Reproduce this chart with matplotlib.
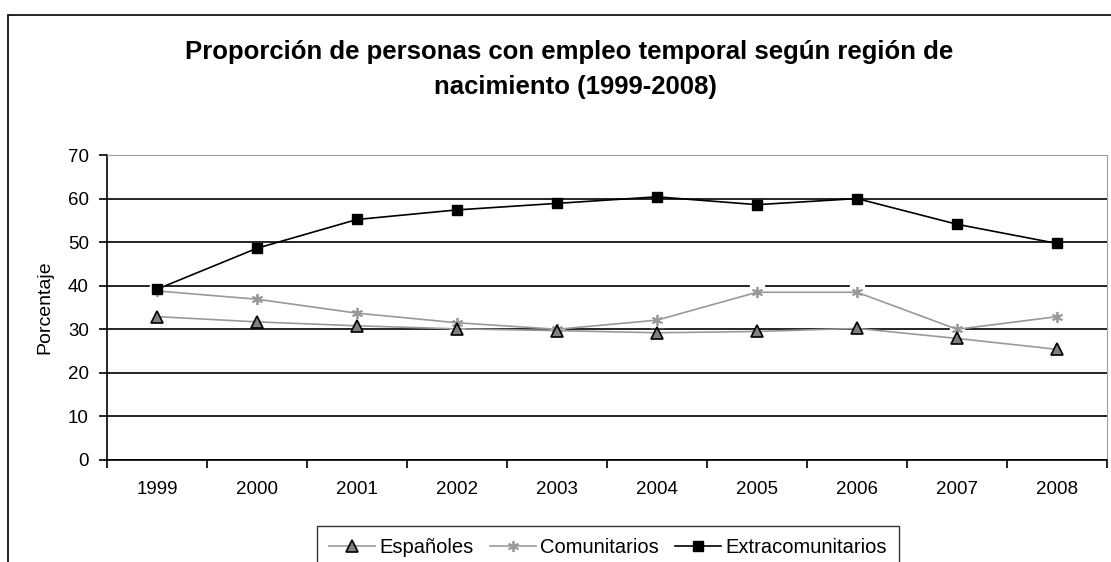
import matplotlib.pyplot as plt
from matplotlib.patches import Rectangle

plt.rcParams['font.family'] = ['Liberation Sans', 'DejaVu Sans']

anios = ['1999', '2000', '2001', '2002', '2003', '2004', '2005', '2006', '2007', '2008']
espanoles = [32.9, 31.7, 30.8, 30.1, 29.7, 29.2, 29.5, 30.2, 27.9, 25.4]
comunitarios = [38.8, 36.9, 33.7, 31.5, 30.0, 32.1, 38.5, 38.5, 30.0, 32.9]
extracomunitarios = [39.2, 48.6, 55.2, 57.4, 58.9, 60.4, 58.6, 60.0, 54.1, 49.7]

fig = plt.figure(figsize=(11.11, 5.62), dpi=100)
# borde del área del gráfico
fig.patches.append(Rectangle((8 / 1111, -0.1), 1.2, 1 - 15 / 562 + 0.1,
                             transform=fig.transFigure, fill=False,
                             edgecolor='black', linewidth=1.2))

ax = fig.add_axes([107 / 1111, 1 - 460 / 562, 1000 / 1111, 305 / 562])
x = list(range(len(anios)))

ax.plot(x, espanoles, color='#999999', lw=1.2, marker='^', ms=8,
        markerfacecolor='#808080', markeredgecolor='black', markeredgewidth=1.2,
        label='Españoles', zorder=4)
# fondo blanco del marcador (como en Excel)
ax.plot(x, comunitarios, ls='none', marker='s', ms=10, color='white', zorder=3)
ax.plot(x, comunitarios, color='#999999', lw=1.2, marker=(6, 2, 0), ms=8,
        markeredgewidth=1.3, label='Comunitarios', zorder=3)
ax.plot(x, extracomunitarios, color='black', lw=1.2, marker='s', ms=7,
        label='Extracomunitarios', zorder=5)

ax.set_xlim(-0.5, 9.5)
ax.set_ylim(0, 70)
ax.set_yticks(range(0, 80, 10))
ax.set_xticks([i - 0.5 for i in range(11)])
ax.set_xticklabels([])
ax.set_xticks(x, minor=True)
ax.set_xticklabels(anios, minor=True)
ax.tick_params(axis='x', which='major', length=6, width=1.2, direction='out')
ax.tick_params(axis='x', which='minor', length=0, pad=15, labelsize=13.5)
ax.tick_params(axis='y', length=6, width=1.2, direction='out', labelsize=13.5, pad=7)
ax.grid(axis='y', color='black', lw=1.2, zorder=1)
ax.set_axisbelow(True)
for s in ['left', 'bottom']:
    ax.spines[s].set_linewidth(1.2)
for s in ['top', 'right']:
    ax.spines[s].set_color('#a0a0a0')
ax.set_ylabel('Porcentaje', fontsize=14)
ax.yaxis.set_label_coords(-0.054, 0.5)

fig.text(0.512, 1 - 52 / 562, 'Proporción de personas con empleo temporal según región de',
         ha='center', va='center', fontsize=18.5, fontweight='bold')
fig.text(0.518, 1 - 87 / 562, 'nacimiento (1999-2008)',
         ha='center', va='center', fontsize=18.5, fontweight='bold')

leg = fig.legend(loc='upper center', bbox_to_anchor=(608 / 1111, 1 - 526 / 562), ncol=3,
                 fontsize=14.5, frameon=True, fancybox=False, edgecolor='black',
                 handlelength=2.3, handletextpad=0.2, columnspacing=0.8,
                 borderpad=0.6, borderaxespad=0)
leg.get_frame().set_linewidth(1.0)

fig.savefig('out.png', dpi=100)
